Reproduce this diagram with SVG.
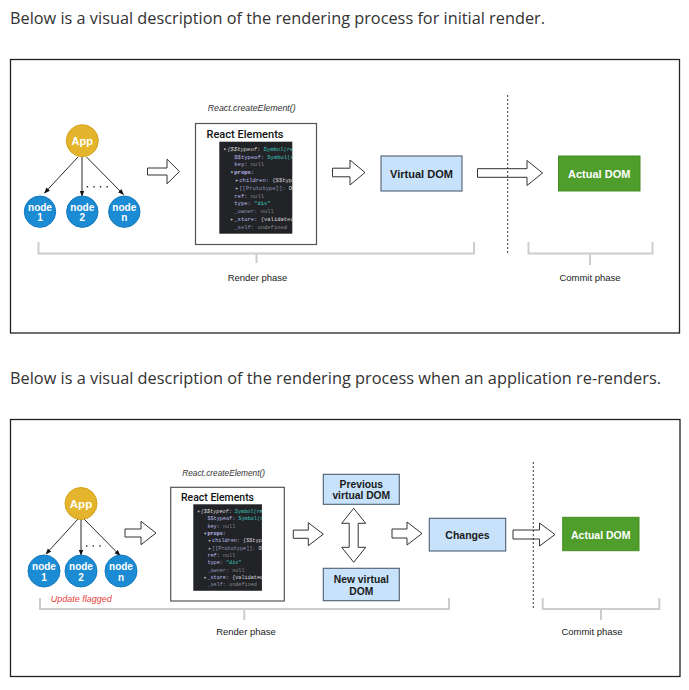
<svg xmlns="http://www.w3.org/2000/svg" width="689" height="690" viewBox="0 0 689 690">
<style>
.page{font-family:"Open Sans","Noto Sans",sans-serif;font-size:15.5px;fill:#333;}
.frame{fill:#fff;stroke:#222;stroke-width:1.3;}
.lbl{font-family:"Liberation Sans",Arial,sans-serif;font-weight:bold;text-anchor:middle;}
.app{fill:#e4b52c;stroke:#d2a21c;stroke-width:1;}
.nd{fill:#1b8bd3;stroke:#1479bd;stroke-width:1;}
.wt{fill:#fff;}
.dk{fill:#1a1a1a;}
.tree{stroke:#111;stroke-width:0.9;fill:none;marker-end:url(#ah);}
.dots{stroke:#333;stroke-width:1.6;stroke-dasharray:1.4 5.2;fill:none;}
.hollow{fill:#fff;stroke:#333;stroke-width:1;}
.blue{fill:#c7e2fa;stroke:#4f5f70;stroke-width:1.1;}
.green{fill:#4f9d2b;stroke:#448f22;stroke-width:1;}
.relbox{fill:#fff;stroke:#555;stroke-width:1.2;}
.title{font-family:Roboto,"Liberation Sans",sans-serif;font-weight:500;font-size:11.5px;fill:#111;}
.ce{font-family:"Liberation Sans",Arial,sans-serif;font-style:italic;fill:#333;}
.bracket{fill:none;stroke:#cdcdcd;stroke-width:2;}
.phase{font-family:"Liberation Sans",Arial,sans-serif;font-size:9.5px;fill:#222;text-anchor:middle;}
.vdots{stroke:#333;stroke-width:1;stroke-dasharray:2 2;fill:none;}
.code{font-family:"Liberation Mono","DejaVu Sans Mono",monospace;font-size:5.5px;}
.k{fill:#b9bdf0}.kd{fill:#8f93b8}.n{fill:#8a8a8a}.s{fill:#3cc9bf}.w{fill:#d8d8d8}
</style>
<defs>
<marker id="ah" viewBox="0 0 10 10" refX="9" refY="5" markerWidth="6" markerHeight="6" orient="auto" markerUnits="userSpaceOnUse"><path d="M0 1 L10 5 L0 9 Z" fill="#111"/></marker>
<clipPath id="cc"><rect x="0" y="0" width="73" height="92"/></clipPath>
<g id="code">
<rect width="73" height="92" fill="#222326"/>
<g clip-path="url(#cc)" class="code">
<text x="4" y="9.1" class="w">▾</text><text x="8" y="9.1" font-style="italic"><tspan class="w">{$$typeof: </tspan><tspan class="s">Symbol(react.element)</tspan></text>
<text x="15" y="16.9"><tspan class="k">$$typeof: </tspan><tspan class="s">Symbol(react.element)</tspan></text>
<text x="15" y="24.7"><tspan class="k">key: </tspan><tspan class="n">null</tspan></text>
<text x="11" y="32.5" class="w">▾</text><text x="15" y="32.5" class="k" font-weight="bold">props:</text>
<text x="16" y="40.3" class="w">▸</text><text x="20" y="40.3"><tspan class="k">children: </tspan><tspan class="w">{$$typeof: Symbol}</tspan></text>
<text x="16" y="48.1" class="w">▸</text><text x="20" y="48.1"><tspan class="kd">[[Prototype]]: </tspan><tspan class="w">Object</tspan></text>
<text x="15" y="55.9"><tspan class="k">ref: </tspan><tspan class="n">null</tspan></text>
<text x="15" y="63.7"><tspan class="k">type: </tspan><tspan class="s">"div"</tspan></text>
<text x="15" y="71.5"><tspan class="kd">_owner: </tspan><tspan class="n">null</tspan></text>
<text x="11" y="79.3" class="w">▸</text><text x="15" y="79.3"><tspan class="k">_store: </tspan><tspan class="w">{validated: false}</tspan></text>
<text x="15" y="87.1"><tspan class="kd">_self: </tspan><tspan class="n">undefined</tspan></text>
</g>
</g>
</defs>
<rect width="689" height="690" fill="#fff"/>

<text class="page" x="10" y="24" textLength="535" lengthAdjust="spacingAndGlyphs">Below is a visual description of the rendering process for initial render.</text>
<rect class="frame" x="10.5" y="59.5" width="669" height="273.5"/>

<text class="page" x="10" y="383.5" textLength="651" lengthAdjust="spacingAndGlyphs">Below is a visual description of the rendering process when an application re-renders.</text>
<rect class="frame" x="10.5" y="419.5" width="669.5" height="257"/>

<!-- ===== Diagram 1 ===== -->
<g id="connectors1">
<path class="tree" d="M78 157 L44.5 193"/>
<path class="tree" d="M82 157 L82 196"/>
<path class="tree" d="M86.5 157 L123.5 194.5"/>
<path class="dots" d="M86.7 186.7 H109"/>
<path class="hollow" d="M147.5 168 H167 V159.2 L179.5 171.5 L167 183.8 V175 H147.5 Z"/>
<path class="hollow" d="M332.5 168.2 H350 V160 L365 172.5 L350 185 V176.8 H332.5 Z"/>
<path class="hollow" d="M477.5 168.7 H527 V160.5 L542.5 173 L527 185.5 V177.3 H477.5 Z"/>
<path class="vdots" d="M507.7 95 V253.5"/>
<path class="bracket" d="M38.5 242 V253.5 H474 V242 M256.5 253.5 V263"/>
<path class="bracket" d="M528.5 242 V253.5 H652.5 V242 M590 253.5 V265"/>
</g>

<g id="app1"><circle class="app" cx="82.3" cy="140.7" r="16"/><text class="lbl wt" x="82.3" y="144.7" font-size="11">App</text></g>
<g id="node1a"><circle class="nd" cx="40" cy="211.7" r="15.7"/><text class="lbl wt" x="40" y="210.8" font-size="10">node</text><text class="lbl wt" x="40" y="221.3" font-size="10">1</text></g>
<g id="node2a"><circle class="nd" cx="82.3" cy="211.7" r="15.7"/><text class="lbl wt" x="82.3" y="210.8" font-size="10">node</text><text class="lbl wt" x="82.3" y="221.3" font-size="10">2</text></g>
<g id="nodena"><circle class="nd" cx="124.3" cy="211.7" r="15.7"/><text class="lbl wt" x="124.3" y="210.8" font-size="10">node</text><text class="lbl wt" x="124.3" y="221.3" font-size="10">n</text></g>

<g id="createElement1"><text class="ce" x="207.7" y="111" font-size="8.8" textLength="88" lengthAdjust="spacingAndGlyphs">React.createElement()</text></g>
<g id="reactElements1">
<rect class="relbox" x="195.5" y="123.5" width="121" height="121"/>
<text class="title" x="206.5" y="138" textLength="77" lengthAdjust="spacingAndGlyphs">React Elements</text>
<use href="#code" transform="translate(219.3,141.7)"/>
</g>
<g id="virtualDom1"><rect class="blue" x="381" y="156" width="81" height="35"/><text class="lbl dk" x="421.5" y="177.8" font-size="11">Virtual DOM</text></g>
<g id="actualDom1"><rect class="green" x="558.5" y="156" width="81.5" height="35"/><text class="lbl wt" x="599.2" y="177.8" font-size="11">Actual DOM</text></g>
<g id="phases1">
<text class="phase" x="257.5" y="280.5">Render phase</text>
<text class="phase" x="590" y="280.5">Commit phase</text>
</g>

<!-- ===== Diagram 2 ===== -->
<g id="connectors2">
<path class="tree" d="M78 519 L46 554"/>
<path class="tree" d="M81 519.5 L81 555"/>
<path class="tree" d="M84 519 L120 555.5"/>
<path class="dots" d="M86 546 H106"/>
<path class="hollow" d="M125 529 H141 V521.3 L156 533 L141 544.7 V537 H125 Z"/>
<path class="hollow" d="M293.3 530.1 H308.3 V522.7 L323.3 534.2 L308.3 545.7 V538.3 H293.3 Z"/>
<path class="hollow" d="M353.7 508.3 L365.7 523.3 H358.2 V547.3 H365.7 L353.7 562.3 L341.7 547.3 H349.2 V523.3 H341.7 Z"/>
<path class="hollow" d="M392 529 H407 V522 L422 533.5 L407 545 V538 H392 Z"/>
<path class="hollow" d="M513 530 H539.5 V523 L555 534.5 L539.5 546 V539 H513 Z"/>
<path class="vdots" d="M533.3 462 V609"/>
<path class="bracket" d="M40 598 V609 H449 V598 M244.3 609 V620"/>
<path class="bracket" d="M542.7 598 V609 H659.3 V598 M601 609 V620"/>
</g>

<g id="app2"><circle class="app" cx="81" cy="503.5" r="16"/><text class="lbl wt" x="81" y="507.5" font-size="11.5">App</text></g>
<g id="node1b"><circle class="nd" cx="44" cy="571" r="16"/><text class="lbl wt" x="44" y="570" font-size="10">node</text><text class="lbl wt" x="44" y="580.6" font-size="10">1</text></g>
<g id="node2b"><circle class="nd" cx="81" cy="571" r="16"/><text class="lbl wt" x="81" y="570" font-size="10">node</text><text class="lbl wt" x="81" y="580.6" font-size="10">2</text></g>
<g id="nodenb"><circle class="nd" cx="121" cy="571" r="16"/><text class="lbl wt" x="121" y="570" font-size="10">node</text><text class="lbl wt" x="121" y="580.6" font-size="10">n</text></g>
<g id="updateFlagged"><text class="ce" x="50.7" y="601.5" font-size="8.9" fill="#e8413a" style="fill:#e8413a" textLength="61" lengthAdjust="spacingAndGlyphs">Update flagged</text></g>

<g id="createElement2"><text class="ce" x="182.3" y="476" font-size="8.3" textLength="82.7" lengthAdjust="spacingAndGlyphs">React.createElement()</text></g>
<g id="reactElements2">
<rect class="relbox" x="170.7" y="487.3" width="113.6" height="113.7"/>
<text class="title" x="181" y="500.5" font-size="11" textLength="73" lengthAdjust="spacingAndGlyphs">React Elements</text>
<use href="#code" transform="translate(193.3,504.3) scale(0.94)"/>
</g>
<g id="prevVdom"><rect class="blue" x="323.3" y="474.3" width="76" height="30"/><text class="lbl dk" x="361.3" y="487.6" font-size="10.3">Previous</text><text class="lbl dk" x="361.3" y="499.3" font-size="10.3">virtual DOM</text></g>
<g id="newVdom"><rect class="blue" x="323.3" y="568.3" width="76" height="32.4"/><text class="lbl dk" x="361.3" y="582.6" font-size="10.3">New virtual</text><text class="lbl dk" x="361.3" y="594.6" font-size="10.3">DOM</text></g>
<g id="changes"><rect class="blue" x="429.3" y="518.3" width="76.4" height="32.7"/><text class="lbl dk" x="467.5" y="539.3" font-size="10.5">Changes</text></g>
<g id="actualDom2"><rect class="green" x="562.7" y="517.3" width="76.3" height="33.4"/><text class="lbl wt" x="600.8" y="538.6" font-size="10.5">Actual DOM</text></g>
<g id="phases2">
<text class="phase" x="246" y="634.5">Render phase</text>
<text class="phase" x="592" y="634.5">Commit phase</text>
</g>
</svg>
